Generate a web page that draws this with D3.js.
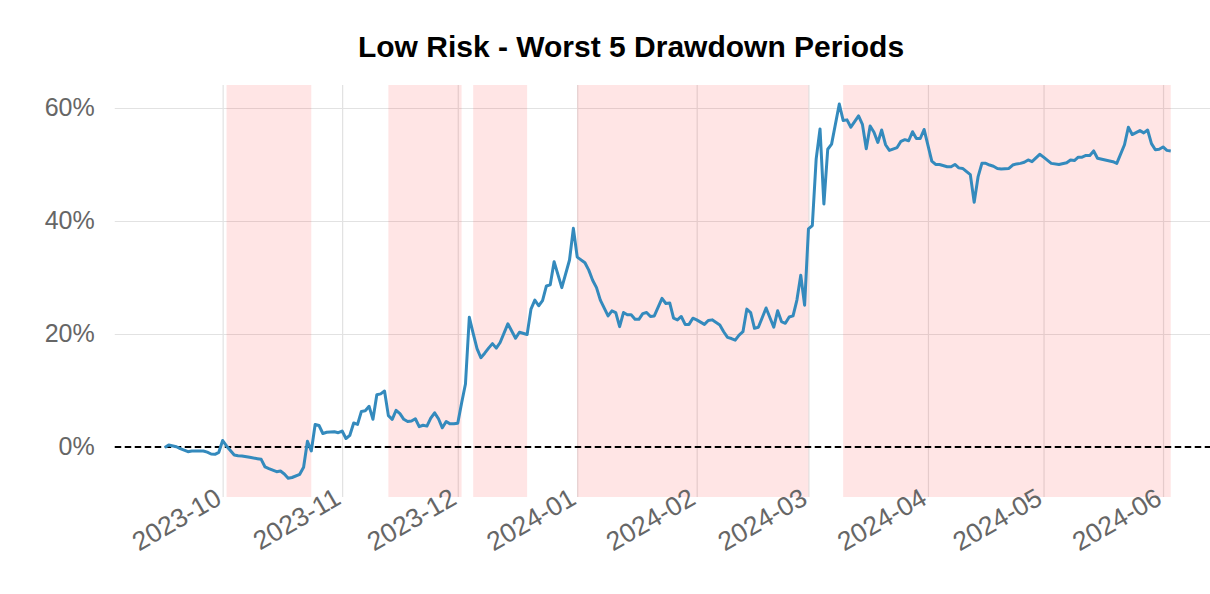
<!DOCTYPE html>
<html>
<head>
<meta charset="utf-8">
<script src="https://cdn.jsdelivr.net/npm/d3@7"></script>
<style>
  html, body { margin: 0; padding: 0; background: #fff; }
  svg { display: block; font-family: "Liberation Sans", Arial, sans-serif; }
</style>
</head>
<body>
<div id="chart"></div>
<script>
// cumulative return (%)
const dates = [
  '2023-09-16','2023-09-17','2023-09-19','2023-09-20','2023-09-22','2023-09-23','2023-09-25','2023-09-26','2023-09-27','2023-09-28','2023-09-29','2023-09-30',
  '2023-10-01','2023-10-02','2023-10-04','2023-10-05','2023-10-06','2023-10-08','2023-10-10','2023-10-11','2023-10-12','2023-10-13','2023-10-15','2023-10-16',
  '2023-10-17','2023-10-18','2023-10-19','2023-10-21','2023-10-22','2023-10-23','2023-10-24','2023-10-25','2023-10-26','2023-10-27','2023-10-28','2023-10-30','2023-10-31',
  '2023-11-01','2023-11-02','2023-11-03','2023-11-04','2023-11-05','2023-11-06','2023-11-07','2023-11-08','2023-11-09','2023-11-10','2023-11-11','2023-11-12',
  '2023-11-13','2023-11-14','2023-11-15','2023-11-16','2023-11-17','2023-11-18','2023-11-19','2023-11-20','2023-11-21','2023-11-22','2023-11-23','2023-11-24',
  '2023-11-25','2023-11-26','2023-11-27','2023-11-28','2023-11-29','2023-11-30',
  '2023-12-01','2023-12-02','2023-12-03','2023-12-04','2023-12-05','2023-12-06','2023-12-07','2023-12-08','2023-12-09','2023-12-10','2023-12-11','2023-12-12',
  '2023-12-14','2023-12-16','2023-12-17','2023-12-19','2023-12-20','2023-12-21','2023-12-22','2023-12-23','2023-12-24','2023-12-25','2023-12-26','2023-12-28',
  '2023-12-30','2023-12-31',
  '2024-01-01','2024-01-03','2024-01-04','2024-01-05','2024-01-06','2024-01-07','2024-01-09','2024-01-10','2024-01-11','2024-01-12','2024-01-13','2024-01-14',
  '2024-01-15','2024-01-16','2024-01-17','2024-01-18','2024-01-19','2024-01-20','2024-01-21','2024-01-23','2024-01-24','2024-01-25','2024-01-26','2024-01-27',
  '2024-01-28','2024-01-29','2024-01-30','2024-01-31',
  '2024-02-01','2024-02-03','2024-02-04','2024-02-05','2024-02-07','2024-02-08','2024-02-09','2024-02-10','2024-02-11','2024-02-12','2024-02-13','2024-02-14',
  '2024-02-15','2024-02-16','2024-02-17','2024-02-19','2024-02-21','2024-02-22','2024-02-23','2024-02-24','2024-02-25','2024-02-26','2024-02-27','2024-02-28','2024-02-29',
  '2024-03-01','2024-03-02','2024-03-03','2024-03-04','2024-03-05','2024-03-06','2024-03-07','2024-03-09','2024-03-10','2024-03-11','2024-03-12','2024-03-14',
  '2024-03-15','2024-03-16','2024-03-17','2024-03-18','2024-03-19','2024-03-20','2024-03-21','2024-03-22','2024-03-24','2024-03-25','2024-03-26','2024-03-27',
  '2024-03-28','2024-03-29','2024-03-30','2024-03-31',
  '2024-04-02','2024-04-03','2024-04-04','2024-04-06','2024-04-07','2024-04-08','2024-04-09','2024-04-10','2024-04-12','2024-04-13','2024-04-14','2024-04-15',
  '2024-04-16','2024-04-17','2024-04-18','2024-04-19','2024-04-20','2024-04-22','2024-04-23','2024-04-24','2024-04-25','2024-04-26','2024-04-27','2024-04-28','2024-04-30',
  '2024-05-01','2024-05-03','2024-05-05','2024-05-07','2024-05-08','2024-05-09','2024-05-10','2024-05-11','2024-05-12','2024-05-13','2024-05-14','2024-05-15',
  '2024-05-17','2024-05-19','2024-05-20','2024-05-22','2024-05-23','2024-05-24','2024-05-26','2024-05-27','2024-05-28','2024-05-29','2024-05-30','2024-05-31',
  '2024-06-01','2024-06-02','2024-06-03'
];
const returns = [
  -0.1, 0.35, 0.05, -0.3, -0.83, -0.7, -0.7, -0.7, -0.9, -1.24, -1.3, -0.94,
  1.15, 0.18, -1.42, -1.54, -1.6, -1.82, -2.07, -2.18, -3.54, -3.84, -4.37, -4.25,
  -4.78, -5.54, -5.4, -4.83, -3.6, 1.03, -0.7, 3.98, 3.8, 2.39, 2.6, 2.7, 2.53,
  2.83, 1.5, 2.07, 4.25, 4.0, 6.3, 6.4, 7.2, 4.9, 9.25, 9.4, 9.9,
  5.55, 4.9, 6.5, 5.9, 4.9, 4.5, 4.6, 5.0, 3.6, 3.85, 3.7, 5.1,
  6.05, 5.0, 3.4, 4.5, 4.1, 4.1,
  4.2, 7.8, 11.15, 22.96, 20.1, 17.4, 15.8, 16.6, 17.5, 18.3, 17.5, 18.5,
  21.8, 19.24, 20.3, 19.9, 24.4, 26.0, 25.0, 25.9, 28.5, 28.7, 32.8, 28.2,
  33.1, 38.7,
  33.6, 32.6, 31.3, 29.5, 28.2, 26.0, 23.2, 24.1, 23.8, 21.3, 23.8, 23.4,
  23.4, 22.6, 22.6, 23.6, 23.8, 23.1, 23.2, 26.3, 25.4, 25.5, 22.8, 22.5,
  23.1, 21.7, 21.7, 22.8,
  22.5, 21.7, 22.4, 22.5, 21.6, 20.4, 19.4, 19.2, 18.9, 19.8, 20.4, 24.4,
  23.8, 21.0, 21.2, 24.6, 21.2, 24.1, 22.2, 21.9, 23.0, 23.2, 26.0, 30.4, 25.1,
  38.6, 39.2, 51.0, 56.3, 43.0, 52.7, 53.6, 60.7, 57.8, 57.9, 56.6, 58.6,
  57.1, 52.8, 56.8, 55.7, 53.9, 56.1, 53.5, 52.5, 53.0, 54.1, 54.4, 54.2,
  55.8, 54.6, 54.6, 56.2,
  50.6, 50.0, 50.0, 49.6, 49.6, 50.0, 49.4, 49.3, 48.2, 43.3, 47.8, 50.2,
  50.2, 49.9, 49.7, 49.3, 49.2, 49.3, 49.9, 50.1, 50.2, 50.4, 50.8, 50.5, 51.8,
  51.3, 50.2, 50.0, 50.3, 50.8, 50.7, 51.3, 51.3, 51.6, 51.6, 52.4, 51.1,
  50.8, 50.5, 50.2, 53.5, 56.6, 55.3, 56.0, 55.6, 56.1, 53.7, 52.6, 52.7,
  53.1, 52.5, 52.4
];

// worst 5 drawdown periods
const ddStart = ['2023-10-02', '2023-11-13', '2023-12-05', '2024-01-01', '2024-03-10'];
const ddEnd   = ['2023-10-24', '2023-12-02', '2023-12-19', '2024-03-01', '2024-06-03'];

const xTicks = ['2023-10-01','2023-11-01','2023-12-01','2024-01-01','2024-02-01','2024-03-01','2024-04-01','2024-05-01','2024-06-01'];
const yTicks = [0, 20, 40, 60];

const width = 1210, height = 594;
const parse = d3.timeParse('%Y-%m-%d');
const pxPerDay = 3.854;

const series = dates.map((d, i) => ({date: parse(d), value: returns[i]}));

const svg = d3.select('#chart').append('svg')
    .attr('width', width)
    .attr('height', height);

const x = d3.scaleTime()
    .domain([parse('2023-09-03'), parse('2024-06-16')])
    .range([118.6 - pxPerDay, 118.6 + 286 * pxPerDay]);

const y = d3.scaleLinear()
    .domain([-8.85, 64.07])
    .range([497, 85]);

const plotLeft = x.range()[0], plotRight = x.range()[1];

// grid lines
svg.append('g')
    .attr('transform', `translate(0, 85)`)
    .call(d3.axisBottom(x).tickValues(xTicks.map(parse)).tickSize(412).tickFormat(''))
    .call(g => g.select('.domain').remove())
    .call(g => g.selectAll('line').attr('stroke', '#e2e2e2').attr('stroke-width', 1.2));

svg.append('g')
    .attr('transform', `translate(${plotLeft}, 0)`)
    .call(d3.axisRight(y).tickValues(yTicks.filter(v => v !== 0)).tickSize(plotRight - plotLeft).tickFormat(''))
    .call(g => g.select('.domain').remove())
    .call(g => g.selectAll('line').attr('stroke', '#e2e2e2').attr('stroke-width', 1.2));

// drawdown shading
svg.append('g')
    .selectAll('rect')
    .data(ddStart.map((s, i) => ({s: parse(s), e: parse(ddEnd[i])})))
    .enter()
    .append('rect')
    .attr('x', d => x(d.s))
    .attr('width', d => x(d.e) - x(d.s))
    .attr('y', y.range()[1])
    .attr('height', y.range()[0] - y.range()[1])
    .attr('fill', 'red')
    .attr('fill-opacity', 0.1);

// zero line
svg.append('line')
    .attr('x1', plotLeft).attr('x2', plotRight)
    .attr('y1', y(0)).attr('y2', y(0))
    .attr('stroke', '#000')
    .attr('stroke-width', 1.8)
    .attr('stroke-dasharray', '6.5,3.5');

// returns line
const line = d3.line()
    .x(d => x(d.date))
    .y(d => y(d.value));

svg.append('path')
    .datum(series)
    .attr('fill', 'none')
    .attr('stroke', '#348ABD')
    .attr('stroke-width', 3)
    .attr('stroke-linejoin', 'round')
    .attr('d', line);

// y axis labels
svg.append('g')
    .attr('transform', `translate(${plotLeft - 20}, 0)`)
    .call(d3.axisLeft(y).tickValues(yTicks).tickSize(0).tickPadding(0).tickFormat(d => d + '%'))
    .call(g => g.select('.domain').remove())
    .call(g => g.selectAll('text')
        .attr('fill', '#666')
        .style('font-size', '25px')
        .style('font-family', '"Liberation Sans", Arial, sans-serif'));

// x axis labels, rotated
svg.append('g')
    .attr('transform', 'translate(0, 502)')
    .call(d3.axisBottom(x).tickValues(xTicks.map(parse)).tickSize(0).tickFormat(d3.timeFormat('%Y-%m')))
    .call(g => g.select('.domain').remove())
    .call(g => g.selectAll('text')
        .attr('x', 0).attr('y', 0).attr('dy', 0)
        .attr('text-anchor', 'end')
        .attr('transform', 'translate(0, 1) rotate(-30)')
        .attr('fill', '#666')
        .style('font-size', '26.5px')
        .style('font-family', '"Liberation Sans", Arial, sans-serif'));

// title
svg.append('text')
    .attr('x', 631)
    .attr('y', 57)
    .attr('text-anchor', 'middle')
    .attr('fill', '#000')
    .style('font-size', '30px')
    .style('font-weight', 'bold')
    .text('Low Risk - Worst 5 Drawdown Periods');
</script>
</body>
</html>
